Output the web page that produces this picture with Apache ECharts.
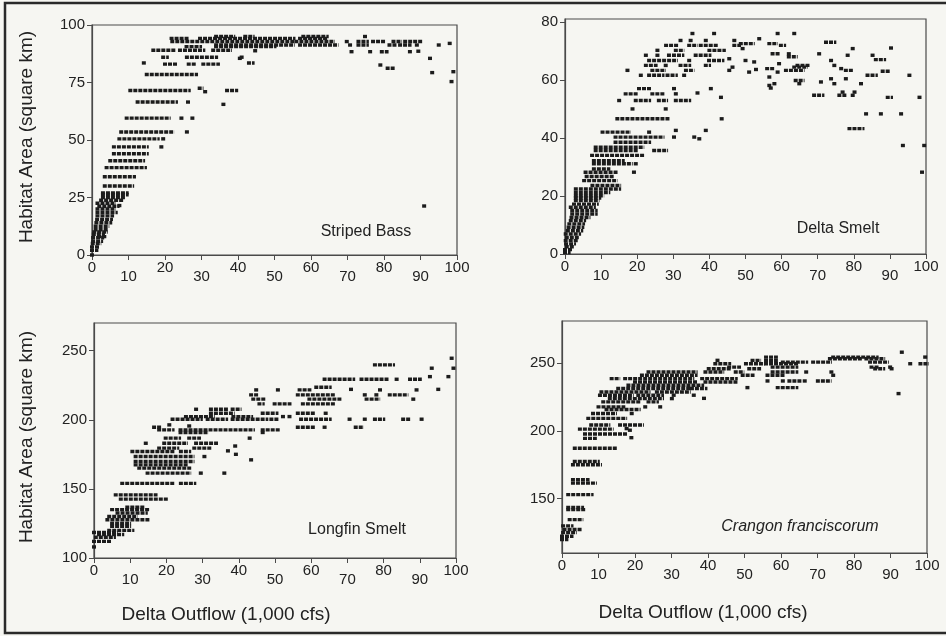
<!DOCTYPE html>
<html>
<head>
<meta charset="utf-8">
<script src="https://cdn.jsdelivr.net/npm/echarts@6/dist/echarts.min.js"></script>
<style>
html,body{margin:0;padding:0;background:#f6f6f2;}
#chart{width:946px;height:636px;}
</style>
</head>
<body>
<div id="chart"></div>
<script>
// ---- Data (runs of points: [xStart, xEnd, y]; single points have xStart == xEnd) ----
const xTicks = [0,10,20,30,40,50,60,70,80,90,100];
const bassYTicks = [0,25,50,75,100];
const smeltYTicks = [0,20,40,60,80];
const longfinYTicks = [100,150,200,250];
const crangonYTicks = [150,200,250];

const panelLabels = ['Striped Bass','Delta Smelt','Longfin Smelt','Crangon franciscorum'];
const yTitle = 'Habitat Area (square km)';
const xTitle = 'Delta Outflow (1,000 cfs)';

const bassRuns = [
[0,0,0],[0,1.2,2],[0,1.5,3.5],[0.2,2,5],[0.3,2.5,6],[0.3,2.8,7.5],[0.5,3,9],[2,3.5,8],[0.6,3.8,10],[1,4,11],[1,4.2,12.5],[1.2,5,14],[1.4,5.2,15.5],[1.5,5.5,17],[1.5,6.5,18.5],[1.5,6,20],[2,7,21.2],[1.5,6,22.5],[2.5,8,23.8],[3,8.5,25],[3,9.5,26.2],[3,9.5,27],[7.5,7.5,21.5],
[3.5,11,30],[3.5,11.5,34],[4,14.5,38],[5,14,41],[6,15,44],[6,15,47],[19,19,47],[7.5,18,50.5],[19.5,19.5,50.5],[8,22,53.5],[26,26,53.5],
[9.5,21,59.5],[24.5,24.5,59.5],[27.5,27.5,59.5],[12.5,23,66.5],[26.3,26.3,66.5],[36,36,65.5],
[10.5,26.5,71.5],[29.5,30,72.5],[31,31,71],[37,39.5,71.5],[15,28.5,78.5],
[14.2,14.2,83.5],[20,23,83],[26.5,28,83],[30.5,34.5,83],[40.5,40.5,85.5],[43,44,83.5],
[19.5,20.5,86],[26,34,86],[41,41,86],
[16.8,22.3,89],[24.1,30.5,89],[33.2,37.8,89],[44.7,44.7,88.8],
[25.9,29.6,90.6],[34,50,90.6],
[34,55,91.3],[57,67,91.3],[70.7,70.7,91.3],[73,75.3,91.3],[81.5,83,91.3],[84.4,87,91.3],[89,89,91.3],
[22,55,92.8],[56,66,92.8],[69.8,69.8,92.8],[73,75.3,92.8],[77,79.8,92.8],[82.6,84.4,92.8],[85.8,89.9,92.8],
[21.8,25.9,94.2],[29.6,55.2,94.2],[57,64,94.2],
[34,38.7,95],[42,44,95],[57.9,64.3,95],[74.8,74.8,95],
[71.1,71.1,88.4],[76.2,76.2,88.4],[79.4,80.7,88.4],[87.1,87.1,88.4],[89.4,89.4,88.6],
[79,79,82.6],[81,82.5,81.2],[92.6,92.6,85.5],[93.2,93.2,79.3],[95,95,91.3],[98,98,92],[99,99,79.7],[98.5,98.5,75.4],[91,91,21.3]
];

const smeltRuns = [
[0,1,0.5],[0,1.5,1.5],[0.5,2,2.5],[0.3,2.5,3.5],[0.2,3,4.6],[0.5,3.5,5.7],[0.2,3.9,6.9],[0.8,4.5,8],[1,4.8,9.2],[1.2,5,10.4],[1.6,5.3,11.5],[1.8,6.5,12.6],[2,8.5,13.8],[2,8.5,15],[1.6,8,16.1],[2.5,8.8,17.2],[3,9,18.4],[3,9.5,19.3],[3,10.3,20.1],[3,12,21.2],[3,15,22.4],[7.6,15,23.6],[5.3,14,25.3],[6,13,26.7],
[5.7,14,28.2],[19.1,19.1,28.2],[8,12,29.3],[8,18.2,31.1],[19.6,19.6,31.1],[8,16,32.2],[7.5,21.4,34],[8.5,19.6,35.7],[24.7,28,35.7],[8.5,21.4,36.8],
[14,23.3,38.5],[14,27,40.3],[30.2,30.2,40.3],[10.4,17.7,42],[23.3,23.3,42],[30.7,30.7,42.6],[35.8,35.8,40.3],[37.2,37.2,39.7],[39,39,42.6],
[14.5,16,46.6],[17.3,28.4,46.6],[43.4,43.4,46.6],
[18.7,18.7,50],[27.9,27.9,50],
[15,15,52.9],[19.6,23.3,52.9],[26,28,52.9],[30.7,34.4,52.9],[43.2,43.2,54],
[16.8,19.6,55.2],[24.2,27,55.2],[30.7,30.7,55.2],[36.7,36.7,55.5],[40.4,40.4,57],
[20.5,23.3,57],[30.2,30.2,57],
[21,21,61.6],[23.3,27,61.6],[28.4,30.7,61.6],[33,33,61.6],
[17.3,17.3,63.3],[24.2,27.4,63.3],[33.5,35.3,63.3],
[22.4,25.1,65],[27.9,27.9,65],[32,34.4,65],[39,39.9,65],
[23.3,30.7,66.7],[34.4,34.4,66.7],[39.9,43.6,66.7],
[22.4,22.4,68.5],[25.6,25.6,68.5],[28.8,32.5,68.5],[36.2,40,68.5],
[25.6,25.6,70.2],[30.7,32.5,70.2],[40,44,70.2],
[28,31,71.9],[34.4,36.2,71.9],[37.6,41.8,71.9],[46.9,48.2,71.9],
[32,32,73.6],[34.8,34.8,73.6],[39,39,73.6],[46.9,46.9,73.6],
[35.3,35.3,76],[41.3,41.3,76],
[53.8,53.8,74.2],[58.9,58.9,76],[63.5,63.5,76],[56.6,58.4,72.5],[59.8,60.7,71.9],[57.5,58.9,69],[62,62,69],
[48.7,52,72.5],[49.2,49.2,70.8],[45.5,45.5,67.3],[46.4,46.4,64.4],[45.5,45.5,63.3],[50,50,66.7],[52.4,52.4,66.2],[51,51,62.7],[52.9,52.9,63.6],
[56,57.5,63.9],[56.6,56.6,61],[56.6,56.6,58.1],[58,58,58.7],[57,57,57.2],[59.3,59.3,65.6],[58.9,58.9,62.7],
[61.2,65.8,63.3],[62,63.9,68],[63.5,66.7,64.4],[64.4,67.2,65],[63.9,65.8,59.8],[64.9,64.9,58.7],
[70.4,70.4,69],[72.3,74.6,73],[73.7,73.7,66.7],[74.6,74.6,65],[73.7,73.7,60.4],[74.6,74.6,58.7],[70.9,70.9,59.3],[69,71.3,54.7],
[76,77.4,54.7],[76.9,76.9,55.8],[76.5,76.5,63.9],[77.8,79.2,63.3],[77.8,77.8,60.4],[78.3,78.3,68.5],[79.7,79.7,70.8],[79.7,79.7,54.7],[80.2,80.2,55.8],[82,82,58.7],
[78.8,82.4,43.2],[83.4,83.4,48.3],[83.8,86.1,61.6],[85.2,85.2,68.5],[86.1,88.4,67],[87.5,87.5,48.3],[88,89.4,63],[89.4,90.3,54],[90.3,90.3,71],
[93.1,93.1,48.3],[93.6,93.6,37.4],[95.4,95.4,61.6],[98.2,98.2,54],[98.9,98.9,28.2],[99.5,99.5,37.4]
];

const longfinRuns = [
[0,0,108],[0,4.2,112],[0.5,5.5,115],[1.4,7.8,117],[0,6,118.5],[4.2,10.6,120],[5,9.7,123],[5,9.7,125],[3.7,14.8,127.7],[4.2,11.5,130],[6.5,14.3,132.5],[5,14.8,135],[9.2,13.4,136.8],
[7.4,19.9,142.6],[6,17,145.7],[7.8,21.7,154],[24,27.7,154],
[14.8,26.3,161.4],[29.5,29.5,161.4],[36,36,161.4],
[12.5,26.3,165],[11.5,25.4,167.4],[11.5,27.2,169.8],[11.5,27.2,173.4],[30.5,30.5,173.4],[10.6,21.7,177],[24,26.3,177],
[18,23,179.5],[27.7,31.9,179.5],[37,37,177.5],[39.2,39.2,175],
[14.3,14.3,183],[19.4,25.4,183],[28.2,33.7,183],
[19.8,23.5,186.7],[26.3,29,186.7],[43,43,186.7],[39,39,181],[43.4,43.4,171],
[18,21.7,192.7],[23.9,43.9,192.7],[46.6,50.8,192.7],
[23.9,31.1,190.8],[46.6,46.6,190.8],
[16.6,18,194.6],[56.3,60.5,194.6],[63.7,63.7,194.6],[72.3,74,194.6],
[20.8,20.8,196.3],[26.3,26.3,195.5],
[21.7,29.5,200.4],[31.4,36.5,200.4],[38.3,47.6,200.4],[49,50.5,200.4],[57.2,65.1,200.4],[70.6,70.6,200.4],[74.8,74.8,200.4],[77.6,79.9,200.4],[85.4,86.8,200.4],[90.5,90.5,200.4],
[25.4,32.8,202.3],[38.5,43.4,202.3],[52.2,52.2,202.3],[54,54,202.3],
[32.3,38.3,204.7],[46.6,50.4,204.7],[56.3,60.5,204.7],[64,64,204.7],
[28.2,28.2,207.6],[32.3,36.5,207.6],[38.3,40.2,207.6],
[45.7,46.6,211.5],[49.9,54,211.5],[57.7,66,211.5],
[44,47,214.9],[59.5,67.9,214.9],[75.3,78.5,214.9],[88.2,88.2,214.9],
[43.4,44.8,218],[56.3,66,218],[74.8,74.8,218],[78,78,218],[81.7,86.3,218],
[44.8,44.8,221.6],[50.8,50.8,221.6],[56.8,59.5,221.6],[79,79,221.6],[89.1,89.1,221.6],
[61.4,65.1,223.5],
[63.7,71.6,229.3],[73.9,80.8,229.3],[83.6,83.6,229.3],[87.3,90,229.3],
[92.8,92.8,231.2],[97.9,97.9,231.2],[71,71,222],[95.1,95.1,222],
[93.3,93.3,237.3],[99.3,99.3,237.3],[77.6,82.6,239.7],[98.8,98.8,244.5]
];

const crangonRuns = [
[0,1.2,120],[0,2.6,122.4],[0.3,3.5,125],[0.7,4.9,127.3],[0.3,2.6,130],[2.1,5.3,134.6],[1.7,5.8,142],[1.7,5.5,143.5],[1.7,8.1,153],[3,9,161.5],[3,7,164],[3,10.4,175],[3.5,9.8,177.4],
[3.5,14.5,187.2],[6.3,9,194.5],[19,19,195],[6.3,17.3,197.7],[17.7,17.7,201.7],[4.9,13.6,201.3],[18.6,18.6,200.5],[8,12.7,204.3],[15.9,21.9,204.3],
[7.2,17.3,209.2],[8.5,14.5,212.8],[19.1,19.1,212.8],[12.2,21,215.8],[10,16.8,217.7],[22.8,22.8,217.7],[26.9,26.9,217.7],
[11.3,21,221.4],[23.7,26,221.4],[13.1,27.4,223.8],[30.1,30.1,223.8],[10.4,19.1,226.3],[20.9,27.4,226.3],[30.6,30.6,226.3],[36.1,36.1,226.3],[38.9,38.9,224],
[10.8,23.7,228.7],[26,34.7,228.7],[15.4,34.7,231.2],[35.6,39.3,231.2],[18.2,38.4,233.6],[20,36.6,236],[39.3,47.6,236],
[13.6,15.4,238.5],[17.3,35.7,238.5],[38.4,47.6,238.5],[21.9,36.6,241],[23.7,36.6,243.4],[39.3,43.9,243.4],[47.6,49.4,243.4],
[40.2,45.8,245.8],[51.3,54,245.8],[42,45.8,249.5],[50.4,55,249.5],[55.9,64.2,249.5],[42.6,42.6,252],[52.2,54,252],[55.9,58.6,252],
[55.9,58.6,254.4],[74.3,86.2,254.4],[73.4,81.6,253.2],[83.4,88,253.2],[60.5,66.9,250.7],[68.8,73.4,250.7],[84.4,89,250.7],
[45.8,48.5,247],[57.7,64.2,247],[89.9,89.9,247],[84.8,86.2,247],[57.7,64.2,243.4],[66.9,66.9,243.4],[73.8,73.8,243.4],
[49.5,52.2,241],[56.3,60.5,241],[74.3,74.3,241],[70.1,73.3,236.8],[56.3,56.3,236.8],[60.5,60.5,236.8],[62.3,65.1,236.8],[66.5,66.5,236.8],
[59.1,64.2,231.9],[50.8,50.8,231.9],[85.8,88,245.8],[90.3,90.3,245.8],[93.1,93.1,258],[95.4,95.4,249.5],[98.2,100,249.5],[99.5,99.5,254.4],[92.2,92.2,227.5]
];

// ---- Chart ----
const FONT = '"Liberation Sans", Arial, Helvetica, sans-serif';
const TXT = '#222';
const LINE = '#4a4a4a';
const DOT = '#1c1c1c';

const panels = [
  {grid:{left:92, top:25, width:365, height:230}, ymin:0, ymax:100, yticks:bassYTicks, data:bassRuns},
  {grid:{left:565, top:19, width:361, height:235}, ymin:0, ymax:81, yticks:smeltYTicks, data:smeltRuns},
  {grid:{left:94, top:323, width:362, height:235}, ymin:100, ymax:270, yticks:longfinYTicks, data:longfinRuns},
  {grid:{left:562, top:321, width:365, height:232}, ymin:110, ymax:281, yticks:crangonYTicks, data:crangonRuns}
];

const grids = [], xAxes = [], yAxes = [], series = [];
panels.forEach((p, i) => {
  grids.push(Object.assign({show:true, borderColor:LINE, borderWidth:1.2, backgroundColor:'transparent'}, p.grid));
  xAxes.push({
    type:'value', gridIndex:i, min:0, max:100, interval:10,
    axisLine:{show:true, lineStyle:{color:LINE, width:1.2}},
    axisTick:{show:true, length:5, lineStyle:{color:LINE}},
    splitLine:{show:false},
    axisLabel:{
      show:true, margin:5, interval:0, hideOverlap:false, color:TXT, fontFamily:FONT, fontSize:15,
      customValues: xTicks,
      formatter: v => (Math.round(v/10) % 2 === 0 ? '{e|' + v + '}' : '{o|' + v + '}'),
      rich:{
        e:{fontFamily:FONT, fontSize:15, color:TXT},
        o:{fontFamily:FONT, fontSize:15, color:TXT, padding:[9,0,0,0]}
      }
    }
  });
  yAxes.push({
    type:'value', gridIndex:i, min:p.ymin, max:p.ymax,
    axisLine:{show:true, lineStyle:{color:LINE, width:1.2}},
    axisTick:{show:true, length:5, customValues:p.yticks, lineStyle:{color:LINE}},
    splitLine:{show:false},
    axisLabel:{show:true, margin:7, color:TXT, fontFamily:FONT, fontSize:15, customValues:p.yticks, hideOverlap:false}
  });
  series.push({
    type:'custom', xAxisIndex:i, yAxisIndex:i,
    encode:{x:[0,1], y:2},
    data:p.data,
    silent:true,
    renderItem:(params, api) => {
      const a = api.coord([api.value(0), api.value(2)]);
      const b = api.coord([api.value(1), api.value(2)]);
      if (b[0] - a[0] < 1) {
        return {type:'rect', shape:{x:a[0]-2, y:a[1]-1.7, width:4, height:3.4}, style:{fill:DOT}};
      }
      return {
        type:'line',
        shape:{x1:a[0]-2, y1:a[1], x2:b[0]+2, y2:b[1]},
        style:{stroke:DOT, lineWidth:3.4, lineDash:[4,1], lineCap:'butt'}
      };
    }
  });
});

const textStyle = (extra) => Object.assign({fill:TXT, fontFamily:FONT, align:'center', verticalAlign:'middle'}, extra);

const option = {
  backgroundColor:'#f6f6f2',
  animation:false,
  grid:grids, xAxis:xAxes, yAxis:yAxes, series:series,
  graphic:[
    {type:'rect', shape:{x:5, y:3, width:960, height:630}, style:{fill:'none', stroke:'#2a2a2a', lineWidth:2.5}, silent:true},
    {type:'text', x:366, y:232, style:textStyle({text:panelLabels[0], fontSize:16})},
    {type:'text', x:838, y:229, style:textStyle({text:panelLabels[1], fontSize:16})},
    {type:'text', x:357, y:530, style:textStyle({text:panelLabels[2], fontSize:16})},
    {type:'text', x:800, y:527, style:textStyle({text:panelLabels[3], fontSize:16, fontStyle:'italic'})},
    {type:'text', x:27, y:137, rotation:Math.PI/2, style:textStyle({text:yTitle, fontSize:19})},
    {type:'text', x:27, y:437, rotation:Math.PI/2, style:textStyle({text:yTitle, fontSize:19})},
    {type:'text', x:226, y:615, style:textStyle({text:xTitle, fontSize:19})},
    {type:'text', x:703, y:613, style:textStyle({text:xTitle, fontSize:19})}
  ]
};

const chart = echarts.init(document.getElementById('chart'), null, {renderer:'canvas'});
chart.setOption(option);
</script>
</body>
</html>
